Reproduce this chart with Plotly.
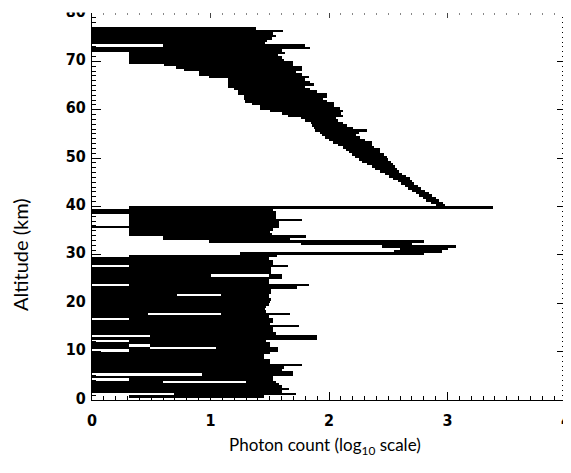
import plotly.graph_objects as go

# Altitude of each horizontal streak (km), left and right ends (log10 photon count)
altitude_km = [
    76.75, 76.25, 75.75, 75.25, 74.75, 74.25, 73.75, 73.25, 72.75, 72.25,
    71.75, 71.25, 70.75, 70.25, 69.75, 69.25, 68.75, 68.25, 67.75, 67.25,
    66.75, 66.25, 65.75, 65.25, 64.75, 64.25, 63.75, 63.25, 62.75, 62.25,
    61.75, 61.25, 60.75, 60.25, 59.75, 59.25, 58.75, 58.25, 57.75, 57.25,
    56.75, 56.25, 55.75, 55.25, 54.75, 54.25, 53.75, 53.25, 52.75, 52.25,
    51.75, 51.25, 50.75, 50.25, 49.75, 49.25, 48.75, 48.25, 47.75, 47.25,
    46.75, 46.25, 45.75, 45.25, 44.75, 44.25, 43.75, 43.25, 42.75, 42.25,
    41.75, 41.25, 40.75, 40.25, 39.75, 39.25, 38.75, 38.25, 37.75, 37.25,
    36.75, 36.25, 35.75, 35.25, 34.75, 34.25, 33.75, 33.25, 32.75, 32.25,
    31.75, 31.25, 30.75, 30.25, 29.75, 29.25, 28.75, 28.25, 27.75, 27.25,
    26.75, 26.25, 25.75, 25.75, 25.25, 24.75, 24.25, 23.75, 23.25, 22.75,
    22.25, 21.75, 21.75, 21.25, 20.75, 20.25, 19.75, 19.25, 18.75, 18.25,
    17.75, 17.75, 17.25, 16.75, 16.25, 15.75, 15.25, 14.75, 14.25, 13.75,
    13.25, 12.75, 12.25, 11.75, 11.25, 11.25, 10.75, 10.75, 10.25, 9.75,
    9.25, 8.75, 8.25, 7.75, 7.25, 6.75, 6.25, 5.75, 5.25, 4.75,
    4.25, 3.75, 3.75, 3.25, 2.75, 2.25, 1.75, 1.25, 0.75,
]
log_count_low = [
    0.00, 0.00, 0.00, 0.00, 0.00, 0.00, 0.00, 0.60, 0.00, 0.00,
    0.31, 0.31, 0.31, 0.31, 0.31, 0.61, 0.71, 0.78, 0.90, 0.90,
    0.99, 1.15, 1.15, 1.15, 1.15, 1.20, 1.23, 1.23, 1.28, 1.28,
    1.29, 1.35, 1.42, 1.42, 1.50, 1.60, 1.65, 1.76, 1.80, 1.85,
    1.86, 1.87, 1.88, 1.92, 1.94, 1.97, 2.00, 2.03, 2.08, 2.12,
    2.14, 2.17, 2.19, 2.22, 2.25, 2.28, 2.32, 2.36, 2.39, 2.43,
    2.47, 2.51, 2.54, 2.58, 2.61, 2.64, 2.67, 2.70, 2.73, 2.76,
    2.79, 2.82, 2.86, 2.90, 0.31, 0.00, 0.00, 0.31, 0.31, 0.31,
    0.31, 0.31, 0.00, 0.31, 0.31, 0.31, 0.60, 0.60, 0.99, 1.76,
    2.45, 2.60, 2.55, 1.25, 0.31, 0.00, 0.00, 0.00, 0.31, 0.00,
    0.00, 0.00, 0.00, 1.49, 0.00, 0.00, 0.00, 0.31, 0.00, 0.00,
    0.00, 0.00, 1.09, 0.00, 0.00, 0.00, 0.00, 0.00, 0.00, 0.00,
    0.00, 1.09, 0.00, 0.31, 0.00, 0.00, 0.00, 0.00, 0.00, 0.00,
    0.49, 0.00, 0.31, 0.00, 0.00, 0.49, 0.00, 1.05, 0.31, 0.00,
    0.00, 0.00, 0.00, 0.00, 0.00, 0.00, 0.00, 0.00, 0.93, 0.00,
    0.31, 0.00, 1.30, 0.00, 0.00, 0.00, 0.00, 0.69, 0.31,
]
log_count_high = [
    1.38, 1.61, 1.53, 1.55, 1.52, 1.48, 1.46, 1.80, 1.84, 1.60,
    1.63, 1.57, 1.60, 1.62, 1.70, 1.70, 1.77, 1.77, 1.72, 1.77,
    1.83, 1.80, 1.84, 1.87, 1.80, 1.84, 1.90, 1.98, 1.98, 1.95,
    1.98, 2.04, 2.04, 2.09, 2.12, 2.10, 2.12, 2.06, 2.08, 2.12,
    2.15, 2.20, 2.32, 2.25, 2.23, 2.26, 2.30, 2.36, 2.36, 2.38,
    2.43, 2.43, 2.46, 2.49, 2.50, 2.52, 2.54, 2.56, 2.57, 2.59,
    2.62, 2.65, 2.68, 2.70, 2.72, 2.75, 2.78, 2.81, 2.84, 2.87,
    2.90, 2.93, 2.96, 2.98, 3.38, 1.53, 1.55, 1.55, 1.55, 1.77,
    1.58, 1.58, 1.58, 1.53, 1.50, 1.52, 1.81, 1.67, 2.80, 2.70,
    3.07, 3.00, 2.95, 2.80, 1.56, 1.49, 1.53, 1.53, 1.65, 1.51,
    1.51, 1.51, 1.00, 1.60, 1.60, 1.49, 1.49, 1.83, 1.73, 1.51,
    1.51, 0.72, 1.49, 1.49, 1.51, 1.50, 1.49, 1.47, 1.46, 1.47,
    0.47, 1.67, 1.49, 1.53, 1.53, 1.50, 1.75, 1.53, 1.53, 1.55,
    1.90, 1.90, 1.47, 1.50, 0.31, 1.50, 0.49, 1.57, 1.57, 1.50,
    1.45, 1.45, 1.50, 1.50, 1.77, 1.62, 1.60, 1.70, 1.70, 1.53,
    1.53, 0.60, 1.55, 1.58, 1.60, 1.66, 1.60, 1.72, 1.45,
]

x_ticks = [0, 1, 2, 3, 4]
y_ticks = [0, 10, 20, 30, 40, 50, 60, 70, 80]

# figure sits at an 8px body offset inside the 571x473 window
W, H = 563, 465
ML, MR, MT, MB = 84, 5, 5, 73
PW, PH = W - ML - MR, H - MT - MB


def paper_x(px):  # window pixel -> paper x
    return (px - 8 - ML) / PW


def paper_y(py):  # window pixel -> paper y
    return (H - (py - 8) - MB) / PH


fig = go.Figure()
fig.add_trace(go.Bar(
    orientation="h",
    y=altitude_km,
    base=log_count_low,
    x=[h - l for h, l in zip(log_count_high, log_count_low)],
    width=0.52,
    marker=dict(color="black", line=dict(width=0)),
    showlegend=False,
    hoverinfo="skip",
))
# invisible helper trace for the top axis ticks
fig.add_trace(go.Scatter(x=[0, 4], y=[0, 0], xaxis="x2", mode="markers",
                         marker=dict(opacity=0), showlegend=False, hoverinfo="skip"))

tick_font = dict(family="Liberation Sans Narrow, DejaVu Sans Condensed, Arial Narrow",
                 size=16, color="black", weight="bold")
title_font = dict(family="Lato, Open Sans", color="black")

fig.update_layout(
    width=W, height=H,
    margin=dict(l=ML, r=MR, t=MT, b=MB, autoexpand=False),
    paper_bgcolor="white", plot_bgcolor="white",
    barmode="overlay", bargap=0, showlegend=False,
    xaxis=dict(
        range=[0, 4], tickvals=x_ticks, ticktext=[str(v) for v in x_ticks],
        ticks="inside", ticklen=8, tickwidth=1, tickcolor="black",
        minor=dict(dtick=0.1, ticks="inside", ticklen=4, tickcolor="black"),
        showline=True, linecolor="black", linewidth=1, mirror=False,
        showgrid=False, zeroline=False, tickfont=tick_font, automargin=False,
        ticklabeloverflow="allow", ticklabelstandoff=6,
    ),
    xaxis2=dict(
        range=[0, 4], overlaying="x", side="top", tickvals=x_ticks,
        showticklabels=False, ticks="inside", ticklen=5, tickcolor="#444",
        minor=dict(dtick=0.1, ticks="inside", ticklen=2, tickcolor="#888"),
        showline=False, showgrid=False, zeroline=False, automargin=False,
    ),
    yaxis=dict(
        range=[0, 80], tickvals=y_ticks, ticktext=[str(v) for v in y_ticks],
        ticks="inside", ticklen=9, tickwidth=1, tickcolor="black",
        minor=dict(dtick=1, ticks="inside", ticklen=4, tickcolor="black"),
        showline=True, linecolor="black", linewidth=1, mirror="ticks",
        showgrid=False, zeroline=False, tickfont=tick_font, automargin=False,
        ticklabeloverflow="allow", ticklabelshift=-2, ticklabelstandoff=2,
    ),
    shapes=[
        # top of the original figure is cropped just at the upper frame
        dict(type="rect", xref="paper", yref="paper", x0=paper_x(0), x1=paper_x(571),
             y0=paper_y(12.5), y1=paper_y(-10), fillcolor="white", line=dict(width=0),
             layer="above"),
    ],
    annotations=[
        dict(text="Altitude (km)", x=paper_x(20), y=paper_y(255), xref="paper", yref="paper",
             xanchor="center", yanchor="middle", showarrow=False, textangle=-90,
             font=dict(size=20, **title_font)),
        dict(text="Photon count (log<sub>10</sub> scale)", x=paper_x(325), y=paper_y(446),
             xref="paper", yref="paper", xanchor="center", yanchor="middle", showarrow=False,
             font=dict(size=17, **title_font)),
    ],
)

fig.write_html("out.html")
